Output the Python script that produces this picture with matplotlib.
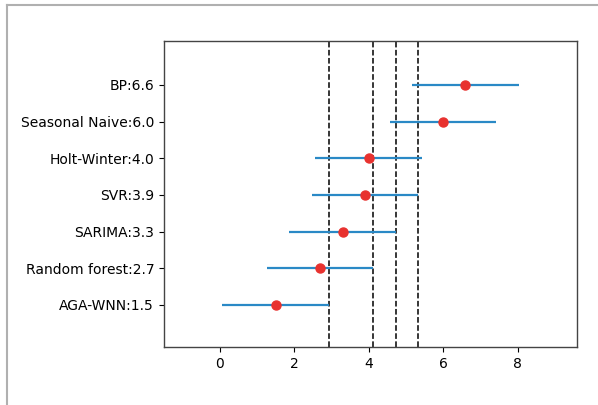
import matplotlib
matplotlib.use('Agg')
import matplotlib.pyplot as plt
from matplotlib.lines import Line2D
import numpy as np

# average ranks, best at bottom
models = ['AGA-WNN', 'Random forest', 'SARIMA', 'SVR', 'Holt-Winter', 'Seasonal Naive', 'BP']
ranks = [1.5, 2.7, 3.3, 3.9, 4.0, 6.0, 6.6]
cd = 1.43  # half width of the interval
cut_models = ['AGA-WNN', 'Random forest', 'SARIMA', 'SVR']  # dashed line at upper end

fig = plt.figure(figsize=(5.98, 4.05), dpi=100)
ax = fig.add_axes([0.274, 0.143, 0.691, 0.756])

ypos = np.arange(len(models))
ax.hlines(ypos, np.array(ranks) - cd, np.array(ranks) + cd, color='#2a89c6', linewidth=1.6, zorder=2)
ax.plot(ranks, ypos, 'o', color='#e8322f', markersize=6.5, zorder=3)

for m in cut_models:
    r = ranks[models.index(m)]
    ax.axvline(r + cd, color='black', linestyle='--', linewidth=1.1, zorder=1)

ax.set_yticks(ypos)
ax.set_yticklabels([m + ':' + str(r) for m, r in zip(models, ranks)], fontsize=10)
ax.set_xticks([0, 2, 4, 6, 8])
ax.tick_params(labelsize=10)
ax.set_xlim(-1.5, 9.6)
ax.set_ylim(-1.15, 7.2)
for s in ax.spines.values():
    s.set_color('#444444')
    s.set_linewidth(1.0)

# screenshot frame
fig.add_artist(Line2D([0.011, 1.0], [0.987, 0.987], color='#b0b0b0', linewidth=1.5, transform=fig.transFigure))
fig.add_artist(Line2D([0.011, 0.011], [0.0, 0.987], color='#b0b0b0', linewidth=1.5, transform=fig.transFigure))

fig.savefig('out.png', dpi=100)
